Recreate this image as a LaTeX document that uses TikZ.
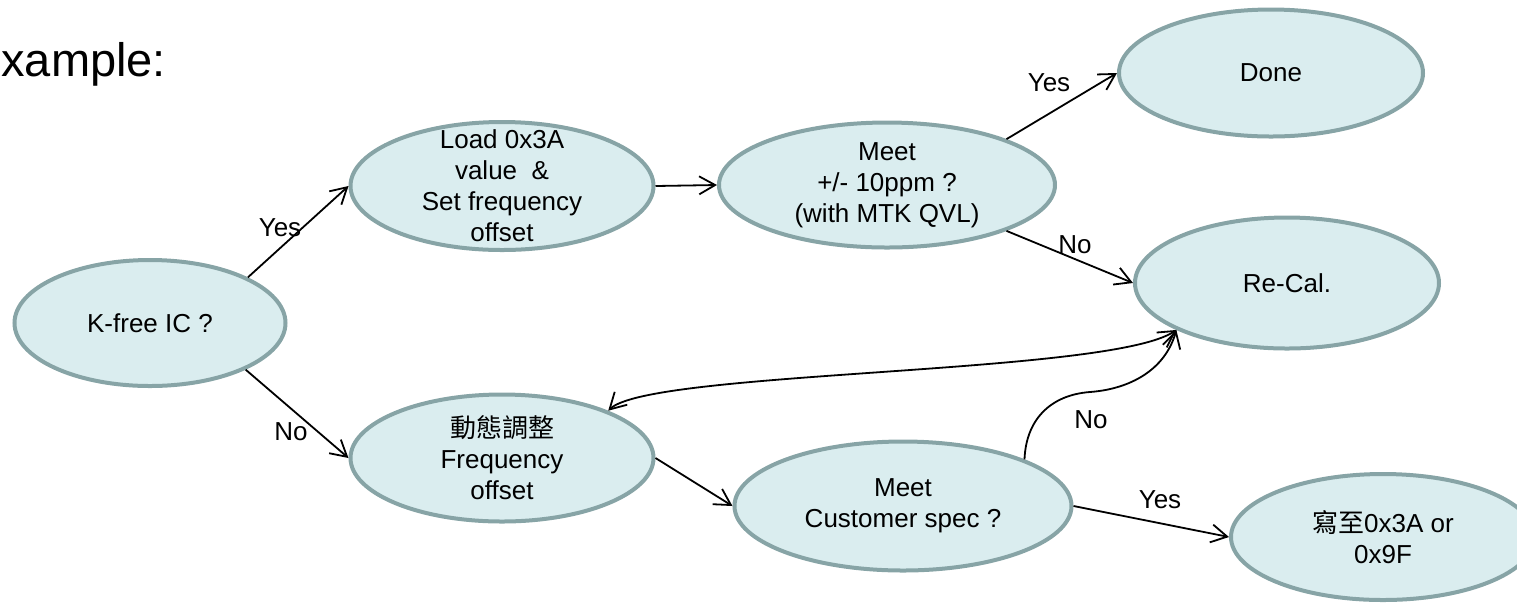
\documentclass[tikz,border=0pt]{standalone}
\usepackage{fontspec}
\setmainfont{Liberation Sans}
\newfontfamily\cjk{Noto Sans CJK TC}
\usepackage{tikz}
\usetikzlibrary{shapes.geometric, arrows.meta}
\definecolor{ellfill}{RGB}{218,237,239}
\definecolor{ellline}{RGB}{135,164,166}
\tikzset{
    myarrow/.style={-{Straight Barb[length=8pt,width=9pt]}, line width=0.9pt},
    twoway/.style={{Straight Barb[length=8pt,width=9pt]}-{Straight Barb[length=8pt,width=9pt]}, line width=0.9pt},
    bubble/.style={draw=ellline, fill=ellfill, ellipse, line width=2pt, inner xsep=0pt, inner ysep=-9pt, align=center, font=\fontsize{13}{15.5}\selectfont},
    lbl/.style={inner sep=0pt, font=\fontsize{13}{15.5}\selectfont}
}

\begin{document}
\begin{tikzpicture}[x=0.5pt, y=-0.5pt]
    \useasboundingbox (0,0) rectangle (1517,602);
    \node (title) [anchor=base west, inner sep=0pt, font=\fontsize{23.5}{28}\selectfont] at (1,76) {xample:};

    % bubbles
    \node (kfree) [bubble, minimum width=135.5pt, minimum height=63pt] at (150,323) {K-free IC ?};
    \node (load) [bubble, minimum width=151.5pt, minimum height=64pt] at (502,186) {Load 0x3A\\value~~\&\\Set frequency\\offset};
    \node (meet) [bubble, minimum width=168pt, minimum height=62.5pt] at (887,185) {Meet\\+/- 10ppm ?\\(with MTK QVL)};
    \node (done) [bubble, minimum width=152pt, minimum height=63.5pt] at (1271,73) {Done};
    \node (recal) [bubble, minimum width=152pt, minimum height=65.5pt] at (1287,283) {Re-Cal.};
    \node (freq) [bubble, minimum width=151.5pt, minimum height=63.5pt] at (502,458) {{\cjk 動態調整}\\Frequency\\offset};
    \node (cust) [bubble, minimum width=168.5pt, minimum height=64.5pt] at (903,506) {Meet\\Customer spec ?};
    \node (write) [bubble, minimum width=152pt, minimum height=63pt] at (1383,537) {{\cjk 寫至}0x3A or\\0x9F};

    % connectors
    \draw [myarrow] (kfree.25) -- (load.west);
    \draw [myarrow] (kfree.334) -- (freq.west);
    \draw [myarrow] (load.east) -- (meet.west);
    \draw [myarrow] (meet.21) -- (done.west);
    \draw [myarrow] (meet.339) -- (recal.west);
    \draw [twoway] (freq.24) .. controls (650,370) and (1110,375) .. (recal.203);
    \draw [myarrow] (cust.21) .. controls (1026,420) and (1050,395) .. (1090,392)
        .. controls (1130,389) and (1165,370) .. (recal.203);
    \draw [myarrow] (freq.east) -- (cust.west);
    \draw [myarrow] (cust.east) -- (write.west);

    % labels
    \node (yes1) [lbl] at (280,228) {Yes};
    \node (no1) [lbl] at (291,432) {No};
    \node (yes2) [lbl] at (1049,83) {Yes};
    \node (no2) [lbl] at (1075,245) {No};
    \node (no3) [lbl] at (1091,420) {No};
    \node (yes3) [lbl] at (1160,500) {Yes};
\end{tikzpicture}
\end{document}
